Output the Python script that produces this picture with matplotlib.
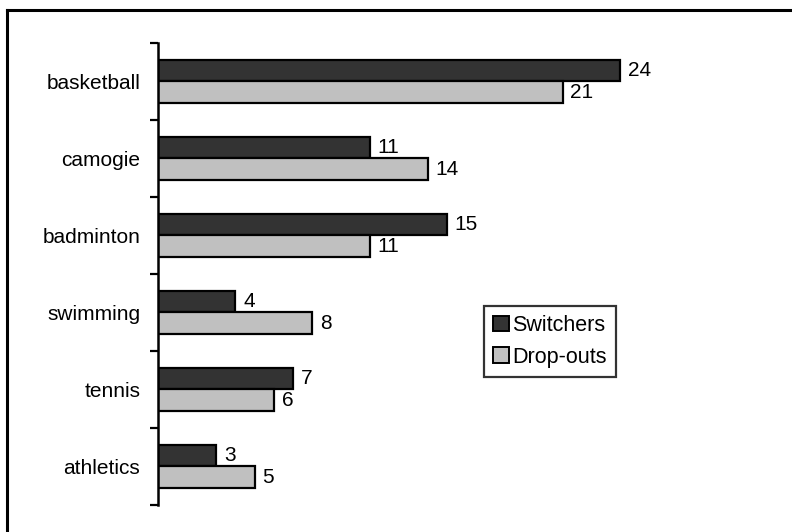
import matplotlib
matplotlib.use("Agg")
import matplotlib.pyplot as plt
from matplotlib.lines import Line2D
from matplotlib.patches import Patch
import numpy as np

plt.rcParams['font.family'] = ['Liberation Sans', 'DejaVu Sans']

categories = ["basketball", "camogie", "badminton", "swimming", "tennis", "athletics"]
switchers = [24, 11, 15, 4, 7, 3]
dropouts = [21, 14, 11, 8, 6, 5]
series_names = ["Switchers", "Drop-outs"]

dark = "#333333"
light = "#c0c0c0"
fs = 15

fig = plt.figure(figsize=(7.92, 5.32), dpi=100)
ax = fig.add_axes([0.1999, 0.0508, 0.7291, 0.8684])

y = np.arange(len(categories))
h = 0.285
b1 = ax.barh(y - h / 2, switchers, height=h, color=dark, edgecolor="black", linewidth=1.6)
b2 = ax.barh(y + h / 2, dropouts, height=h, color=light, edgecolor="black", linewidth=1.6)

for bars, vals in ((b1, switchers), (b2, dropouts)):
    for rect, v in zip(bars, vals):
        ax.text(v + 0.4, rect.get_y() + rect.get_height() / 2, str(v),
                va="center", ha="left", fontsize=fs)

ax.set_xlim(0, 30)
ax.set_ylim(len(categories) - 0.5, -0.5)

ax.set_yticks(y)
ax.set_yticklabels(categories, fontsize=fs)
ax.set_yticks(np.arange(-0.5, len(categories)), minor=True)
ax.tick_params(axis="y", which="major", length=0, pad=13)
ax.tick_params(axis="y", which="minor", length=5.5, width=1.6, direction="out")
ax.set_xticks([])

for side in ("top", "right", "bottom"):
    ax.spines[side].set_visible(False)
ax.spines["left"].set_linewidth(1.8)

handles = [Patch(facecolor=dark, edgecolor="black", linewidth=1.4),
           Patch(facecolor=light, edgecolor="black", linewidth=1.4)]
leg = ax.legend(handles, series_names, loc="upper left", bbox_to_anchor=(0.564, 0.431),
                borderaxespad=0, fontsize=15.5, frameon=True, fancybox=False,
                handlelength=0.75, handleheight=0.75, handletextpad=0.15,
                labelspacing=0.5, borderpad=0.42)
leg.get_frame().set_edgecolor("black")
leg.get_frame().set_linewidth(1.6)

# outer chart frame (only top and left edges fall inside the canvas)
fig.add_artist(Line2D([7 / 792, 1.0], [1 - 10 / 532, 1 - 10 / 532],
                      transform=fig.transFigure, color="black", linewidth=2.2))
fig.add_artist(Line2D([7 / 792, 7 / 792], [0.0, 1 - 10 / 532],
                      transform=fig.transFigure, color="black", linewidth=2.2))

fig.savefig("out.png", dpi=100)
